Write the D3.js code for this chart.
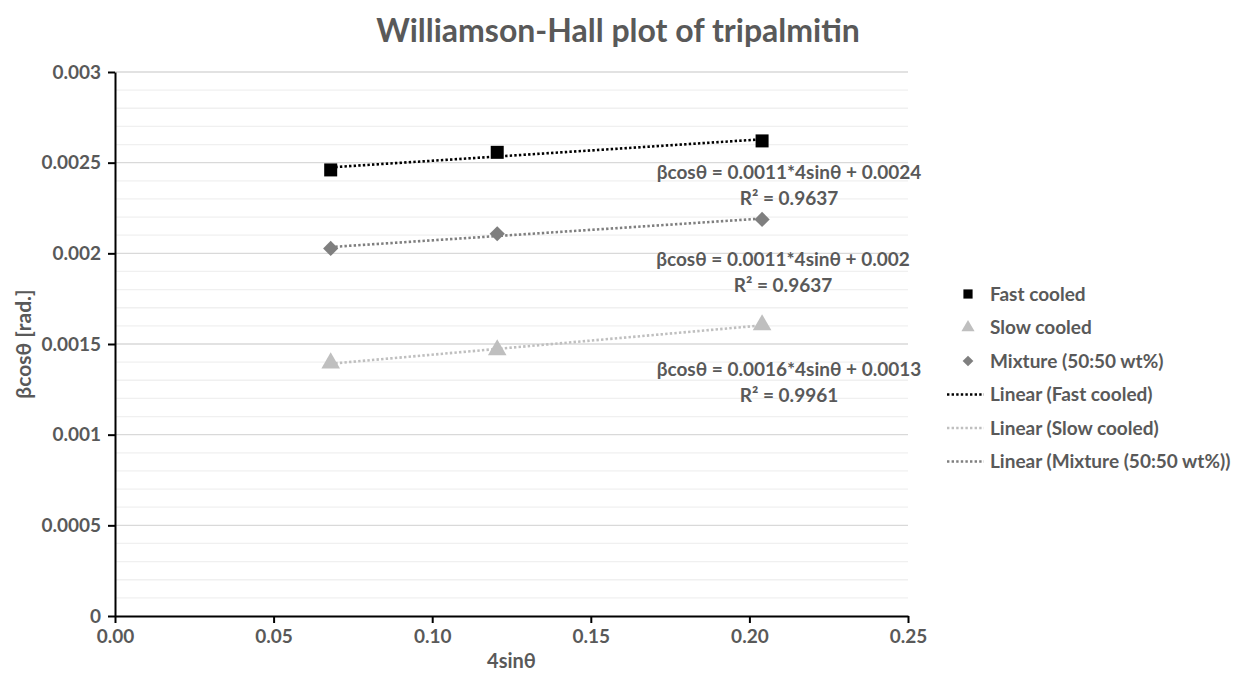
<!DOCTYPE html>
<html>
<head>
<meta charset="utf-8">
<script src="https://cdn.jsdelivr.net/npm/d3@7"></script>
<style>
  body { margin: 0; background: #fff; }
  text { font-family: Lato, "Open Sans", sans-serif; font-weight: bold; fill: #595959; }
</style>
</head>
<body>
<div id="chart"></div>
<script>
const xValues = [0.068, 0.1205, 0.204];
const fastCooled = [0.00246, 0.002557, 0.00262];
const slowCooled = [0.001395, 0.001467, 0.001605];
const mixture = [0.002027, 0.002108, 0.002187];
const xTicks = [0, 0.05, 0.1, 0.15, 0.2, 0.25];
const yTicks = [0, 0.0005, 0.001, 0.0015, 0.002, 0.0025, 0.003];
const equations = [
  ["βcosθ = 0.0011*4sinθ + 0.0024", "R² = 0.9637"],
  ["βcosθ = 0.0011*4sinθ + 0.002", "R² = 0.9637"],
  ["βcosθ = 0.0016*4sinθ + 0.0013", "R² = 0.9961"]
];

const width = 1237;
const height = 684;

const svg = d3
  .select("#chart")
  .append("svg")
  .attr("width", width)
  .attr("height", height);

const xScale = d3.scaleLinear().domain([0, 0.25]).range([115, 908]);
const yScale = d3.scaleLinear().domain([0, 0.003]).range([616, 72]);

// gridlines every 0.0001
const minor = d3.range(1, 31).map((i) => i * 0.0001);
svg
  .selectAll(".grid")
  .data(minor)
  .enter()
  .append("line")
  .attr("x1", xScale(0))
  .attr("x2", xScale(0.25))
  .attr("y1", (d) => yScale(d))
  .attr("y2", (d) => yScale(d))
  .style("stroke", (d, i) => ((i + 1) % 5 == 0 ? "#d9d9d9" : "#f0f0f0"))
  .style("stroke-width", 1.3);

// axes
const xAxis = d3.axisBottom(xScale).tickValues(xTicks).tickFormat(d3.format(".2f")).tickSize(7).tickSizeOuter(0);
const yAxis = d3.axisLeft(yScale).tickValues(yTicks).tickFormat((d) => (d == 0 ? "0" : String(+d.toFixed(4)))).tickSize(7).tickSizeOuter(0);

const gx = svg.append("g").attr("transform", "translate(0," + yScale(0) + ")").call(xAxis);
const gy = svg.append("g").attr("transform", "translate(" + xScale(0) + ",0)").call(yAxis);

[gx, gy].forEach((g) => {
  g.select(".domain").style("stroke", "#000").style("stroke-width", 2);
  g.selectAll(".tick line").style("stroke", "#000").style("stroke-width", 2);
  g.selectAll(".tick text").style("font-size", "19px").style("fill", "#595959").style("font-family", null);
});
gx.selectAll(".tick text").attr("y", 14).attr("dy", "0.71em");
gy.selectAll(".tick text").attr("x", -14);

// titles
svg.append("text")
  .attr("x", 618).attr("y", 42)
  .attr("text-anchor", "middle")
  .style("font-size", "32px")
  .text("Williamson-Hall plot of tripalmitin");

svg.append("text")
  .attr("x", xScale(0.125)).attr("y", 668)
  .attr("text-anchor", "middle")
  .style("font-size", "20px")
  .text("4sinθ");

svg.append("text")
  .attr("transform", "translate(31," + yScale(0.0015) + ") rotate(-90)")
  .attr("text-anchor", "middle")
  .style("font-size", "21px")
  .text("βcosθ [rad.]");

const series = [
  { name: "Fast cooled", values: fastCooled, color: "#000000", shape: d3.symbolSquare, size: 169, rot: 0 },
  { name: "Slow cooled", values: slowCooled, color: "#bfbfbf", shape: d3.symbolTriangle, size: 150, rot: 0 },
  { name: "Mixture (50:50 wt%)", values: mixture, color: "#7f7f7f", shape: d3.symbolSquare, size: 115, rot: 45 }
];

// least squares trendline, drawn between the first and last x
const fit = (ys) => {
  const mx = d3.mean(xValues), my = d3.mean(ys);
  let num = 0, den = 0;
  xValues.forEach((x, i) => { num += (x - mx) * (ys[i] - my); den += (x - mx) * (x - mx); });
  const slope = num / den;
  return (x) => my + slope * (x - mx);
};

const line = d3.line().x((d) => xScale(d[0])).y((d) => yScale(d[1]));

series.forEach((s) => {
  const f = fit(s.values);
  const ends = [xValues[0], xValues[xValues.length - 1]];
  svg.append("path")
    .attr("d", line(ends.map((x) => [x, f(x)])))
    .style("fill", "none")
    .style("stroke", s.color)
    .style("stroke-width", 2.6)
    .style("stroke-dasharray", "2.4,2.2");
});

series.forEach((s) => {
  svg.selectAll(null)
    .data(s.values)
    .enter()
    .append("path")
    .attr("d", d3.symbol().type(s.shape).size(s.size))
    .attr("transform", (d, i) => "translate(" + xScale(xValues[i]) + "," + yScale(d) + ") rotate(" + s.rot + ")")
    .style("fill", s.color);
});

// equation labels
const eqPos = [[789, 179], [783, 266], [789, 376]];
equations.forEach((eq, i) => {
  const t = svg.append("text")
    .attr("x", eqPos[i][0]).attr("y", eqPos[i][1])
    .attr("text-anchor", "middle")
    .style("font-size", "19px");
  t.append("tspan").text(eq[0]);
  t.append("tspan").attr("x", eqPos[i][0]).attr("dy", 26).text(eq[1]);
});

// legend
const legendItems = series.map((s) => ({ name: s.name, s: s, kind: "marker" }))
  .concat(series.map((s) => ({ name: "Linear (" + s.name + ")", s: s, kind: "line" })));

const legend = svg.selectAll(".legend")
  .data(legendItems)
  .enter()
  .append("g")
  .attr("transform", (d, i) => "translate(0," + (294 + i * 33.5) + ")");

legend.each(function (d) {
  const g = d3.select(this);
  if (d.kind == "marker") {
    g.append("path")
      .attr("d", d3.symbol().type(d.s.shape).size(d.s.size * 0.5))
      .attr("transform", "translate(968,0) rotate(" + d.s.rot + ")")
      .style("fill", d.s.color);
  } else {
    g.append("line")
      .attr("x1", 947).attr("x2", 984)
      .style("stroke", d.s.color)
      .style("stroke-width", 2.6)
      .style("stroke-dasharray", "2.4,2.2");
  }
  g.append("text")
    .attr("x", 990)
    .attr("dy", "0.35em")
    .style("font-size", "19px")
    .text(d.name);
});
</script>
</body>
</html>
